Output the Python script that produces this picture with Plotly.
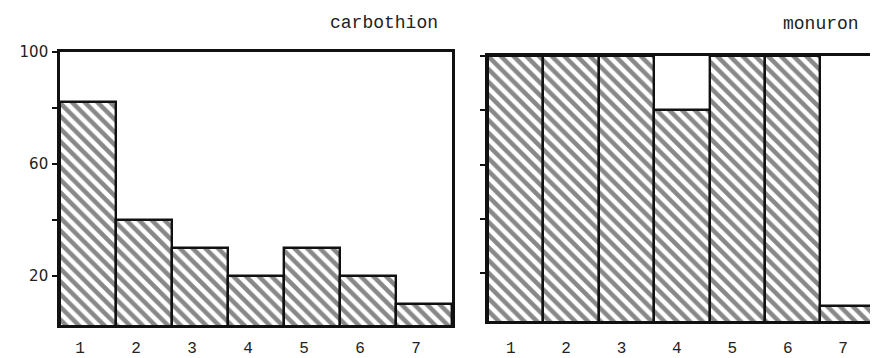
import plotly.graph_objects as go

categories = [1, 2, 3, 4, 5, 6, 7]
carbothion = [82, 40, 30, 20, 30, 20, 10]
monuron = [100, 100, 100, 80, 100, 100, 8]
ytick_vals = [0, 20, 40, 60, 80, 100]
ytick_text = ["", "20", "", "60", "", "100"]

# page body has an 8px margin; figure is sized to fill the rest of the window
OFF = 8
W, H = 878 - OFF, 358 - OFF
fig = go.Figure()


def px(v):
    return (v - OFF) / W


def py(v):
    return (H - (v - OFF)) / H


pattern = dict(shape="\\", fgcolor="#111", bgcolor="white", size=9, solidity=0.5)
bar_line = dict(color="#111", width=2.4)

fig.add_trace(go.Bar(x=categories, y=carbothion, width=1.0, xaxis="x", yaxis="y",
                     marker=dict(color="white", line=bar_line, pattern=pattern),
                     showlegend=False, hoverinfo="x+y"))
fig.add_trace(go.Bar(x=categories, y=monuron, width=1.0, xaxis="x2", yaxis="y2",
                     marker=dict(color="white", line=bar_line, pattern=pattern),
                     showlegend=False, hoverinfo="x+y"))

line_style = dict(showgrid=False, zeroline=False, linecolor="#111", linewidth=2.6,
                  automargin=False)
xfont = dict(family="Liberation Mono", size=16, color="#222")
yfont = dict(family="DejaVu Sans", size=15, color="#222")

fig.update_layout(
    width=W, height=H,
    margin=dict(l=0, r=0, t=0, b=0, pad=0),
    paper_bgcolor="white", plot_bgcolor="white",
    bargap=0,
    xaxis=dict(domain=[px(60), px(452)], range=[0.5, 7.5], anchor="y",
               tickvals=categories, ticktext=[str(c) for c in categories],
               showline=True, mirror=True, ticks="", tickfont=xfont,
               ticklabelshift=-8, ticklabelstandoff=6, **line_style),
    yaxis=dict(domain=[py(325), py(52)], range=[2.5, 100], anchor="x",
               tickvals=ytick_vals, ticktext=ytick_text,
               showline=True, mirror=True, tickfont=yfont,
               ticks="outside", ticklen=5, tickwidth=2, tickcolor="#111",
               ticklabelstandoff=1, **line_style),
    xaxis2=dict(domain=[px(488), 1.0], range=[0.5, 7.54], anchor="y2",
                tickvals=categories, ticktext=[str(c) for c in categories],
                showline=True, mirror=True, ticks="", tickfont=xfont,
                ticklabelshift=-5, ticklabelstandoff=10, **line_style),
    yaxis2=dict(domain=[py(321), py(56)], range=[2.5, 100], anchor="x2",
                tickvals=ytick_vals, showticklabels=False,
                showline=True, mirror=False,
                ticks="outside", ticklen=5, tickwidth=2, tickcolor="#111",
                **line_style),
)

fig.add_annotation(text="carbothion", x=px(384), y=py(23), xref="paper", yref="paper",
                   xanchor="center", yanchor="middle",
                   showarrow=False, font=dict(family="Liberation Mono", size=18, color="#222"))
fig.add_annotation(text="monuron", x=px(821), y=py(24), xref="paper", yref="paper",
                   xanchor="center", yanchor="middle",
                   showarrow=False, font=dict(family="Liberation Mono", size=18, color="#222"))

fig.write_html("out.html")
